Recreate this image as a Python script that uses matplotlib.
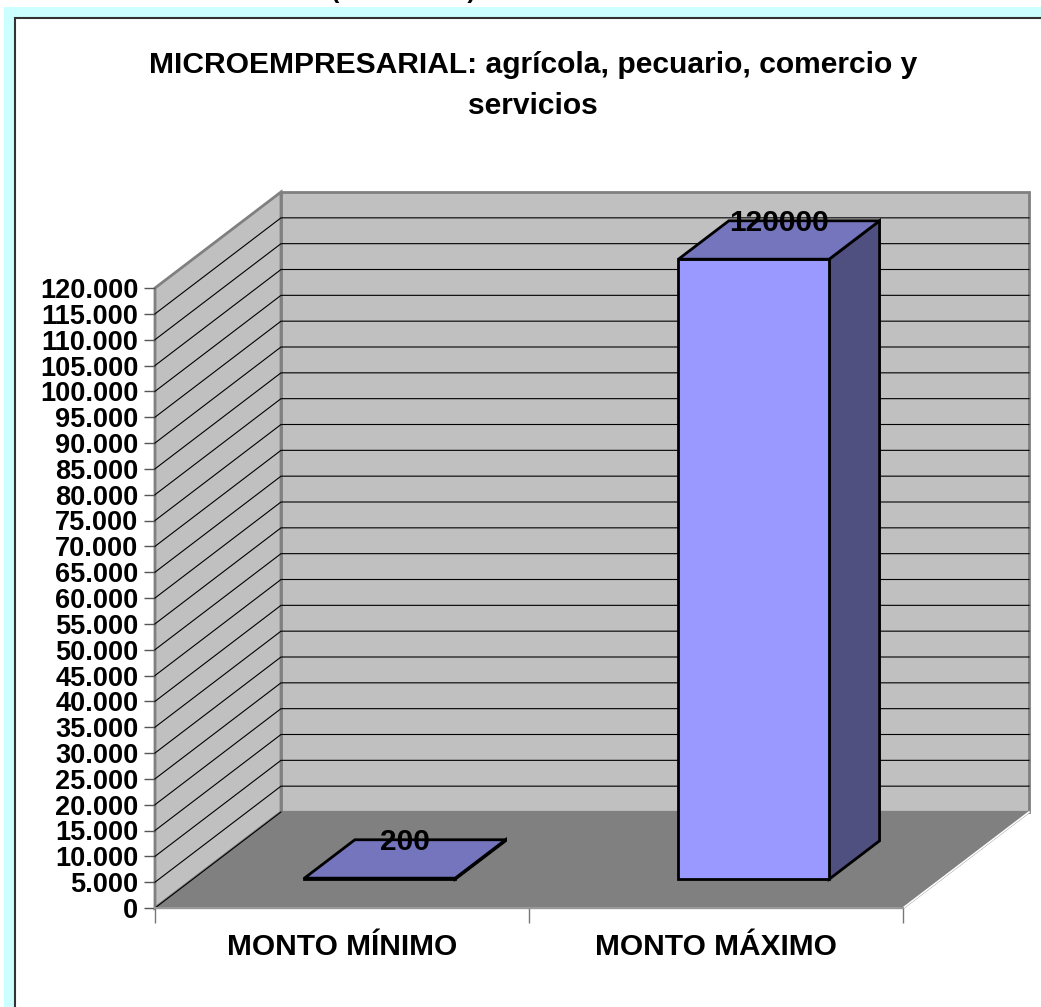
import matplotlib
matplotlib.use('Agg')
import matplotlib.pyplot as plt
from matplotlib.patches import Polygon, Rectangle

plt.rcParams['font.family'] = ['Liberation Sans', 'DejaVu Sans']

# datos del grafico
categorias = ['MONTO MÍNIMO', 'MONTO MÁXIMO']
montos = [200, 120000]
etiquetas = ['200', '120000']
ticks = list(range(0, 125000, 5000))
titulo = 'MICROEMPRESARIAL: agrícola, pecuario, comercio y\nservicios'
encabezado = '(En dólares) MONTO DEL CRÉDITO'

W, H = 1041, 1007
Y_MAX = 120000

# caja 3d en pixeles
X0, X1 = 155, 903
Y0, Y1 = 908, 288
DX, DY = 126, 96
ANCHO = 0.403
D_FRENTE, D_FONDO = 0.30, 0.70

fig = plt.figure(figsize=(W / 100, H / 100), dpi=100, facecolor='white')


def px(x, y):
    return x / W, 1 - y / H


# fondo celeste y marco del grafico
fig.add_artist(Rectangle(px(4, 1007), 1037 / W, 1000 / H, transform=fig.transFigure,
                         fc='#CCFFFF', ec='none', zorder=-3))
fig.add_artist(Rectangle(px(15, 1010), 1030 / W, 992.5 / H, transform=fig.transFigure,
                         fc='white', ec='#333333', lw=1.5, zorder=-2))
fig.text(331 / W, 1 + 11 / H, encabezado, ha='left', va='center', fontsize=18, fontweight='bold')
fig.text(533 / W, 1 - 85.5 / H, titulo, ha='center', va='center', fontsize=21.6, fontweight='bold',
         linespacing=1.6)

ax = fig.add_axes([X0 / W, 1 - Y0 / H, (X1 - X0) / W, (Y0 - Y1) / H])
ax.set_xlim(0, len(categorias))
ax.set_ylim(0, Y_MAX)
ax.patch.set_visible(False)
for s in ax.spines.values():
    s.set_visible(False)


def pt(x, v, d=0.0):
    # proyeccion oblicua: d=0 frente, d=1 fondo
    ox = d * DX / ((X1 - X0) / len(categorias))
    oy = d * DY / (Y0 - Y1) * Y_MAX
    return x + ox, v + oy


def cara(puntos, fc, ec, lw, z):
    ax.add_patch(Polygon(puntos, closed=True, fc=fc, ec=ec, lw=lw, zorder=z,
                         clip_on=False, joinstyle='miter'))


n = len(categorias)
# paredes y piso
cara([pt(0, 0), pt(0, 0, 1), pt(0, Y_MAX, 1), pt(0, Y_MAX)], '#C0C0C0', '#808080', 2, 1)
cara([pt(0, 0, 1), pt(n, 0, 1), pt(n, Y_MAX, 1), pt(0, Y_MAX, 1)], '#C0C0C0', '#808080', 2, 1)
cara([pt(0, 0), pt(n, 0), pt(n, 0, 1), pt(0, 0, 1)], '#808080', '#808080', 1.6, 2)

# lineas de division
for t in ticks[1:-1]:
    a, b, c = pt(0, t), pt(0, t, 1), pt(n, t, 1)
    ax.plot([a[0], b[0], c[0]], [a[1], b[1], c[1]], color='black', lw=0.8, zorder=2, clip_on=False)

# bordes del piso
a, b = pt(0, 0), pt(0, 0, 1)
ax.plot([a[0], b[0]], [a[1], b[1]], color='black', lw=0.8, zorder=3, clip_on=False)
a, b = pt(n, 0), pt(n, 0, 1)
ax.plot([a[0], b[0]], [a[1], b[1]], color='white', lw=1.2, zorder=3, clip_on=False)
a = pt(0, 0)
b = pt(n, 0)
ax.plot([a[0], b[0]], [a[1], b[1]], color='#999999', lw=1.5, zorder=3, clip_on=False)

# barras
for i, v in enumerate(montos):
    x0 = i + (1 - ANCHO) / 2
    x1 = x0 + ANCHO
    z = 4 + i
    cara([pt(x1, 0, D_FRENTE), pt(x1, 0, D_FONDO), pt(x1, v, D_FONDO), pt(x1, v, D_FRENTE)],
         '#4F4F80', 'black', 2, z)
    cara([pt(x0, 0, D_FRENTE), pt(x1, 0, D_FRENTE), pt(x1, v, D_FRENTE), pt(x0, v, D_FRENTE)],
         '#9999FF', 'black', 2, z)
    cara([pt(x0, v, D_FRENTE), pt(x1, v, D_FRENTE), pt(x1, v, D_FONDO), pt(x0, v, D_FONDO)],
         '#7575BD', 'black', 2, z)
    # etiqueta centrada en la tapa, a la altura del borde trasero
    lx = pt(i + 0.5, v, (D_FRENTE + D_FONDO) / 2)[0]
    ly = pt(i + 0.5, v, D_FONDO)[1]
    ax.annotate(etiquetas[i], (lx, ly), xytext=(0, -1.5), textcoords='offset points', ha='center',
                va='center', fontsize=21.5, fontweight='bold', color='black', zorder=8,
                annotation_clip=False)

ax.set_yticks(ticks)
ax.set_yticklabels([f'{t:,}'.replace(',', '.') for t in ticks], fontsize=19.5, fontweight='bold')
ax.set_xticks(range(n + 1))
ax.set_xticklabels([])
ax.set_xticks([i + 0.5 for i in range(n)], minor=True)
ax.set_xticklabels(categorias, minor=True, fontsize=21.5, fontweight='bold')
ax.tick_params(axis='y', length=8, width=1, color='#555555', pad=4)
ax.tick_params(axis='x', which='major', length=11, width=1, color='#777777')
ax.tick_params(axis='x', which='minor', length=0, pad=18)

fig.savefig('out.png', dpi=100)
